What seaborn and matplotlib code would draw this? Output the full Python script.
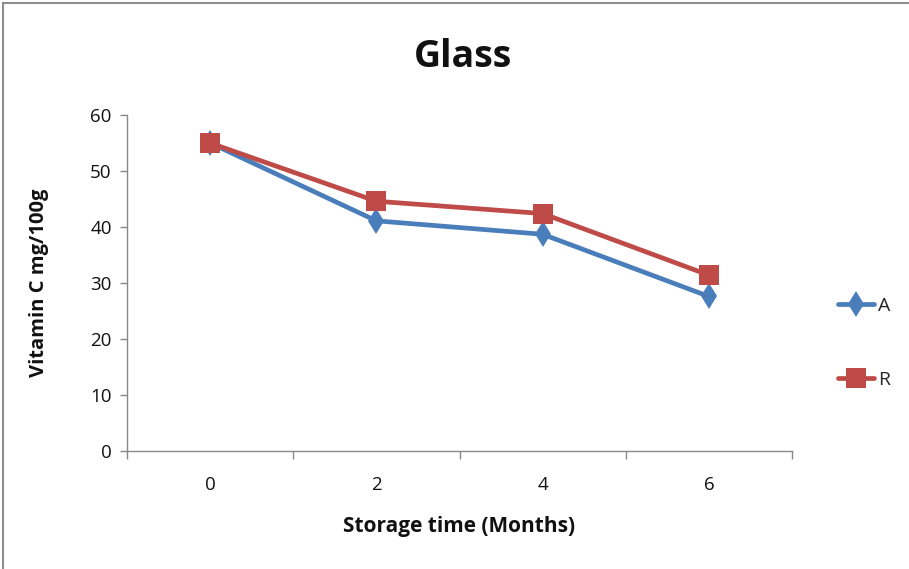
import matplotlib
matplotlib.use("Agg")
import matplotlib.pyplot as plt
from matplotlib.patches import Rectangle
from matplotlib.lines import Line2D
from matplotlib.ticker import FixedLocator, NullFormatter, FixedFormatter
import seaborn as sns
import pandas as pd

# Storage time (months) and vitamin C content (mg/100g)
months = ["0", "2", "4", "6"]
vit_a = [55.0, 41.1, 38.7, 27.6]
vit_r = [55.0, 44.6, 42.4, 31.4]
series_names = ["A", "R"]
colors = {"A": "#4A7EBB", "R": "#BE4B48"}

df = pd.DataFrame({
    "pos": list(range(len(months))) * 2,
    "value": vit_a + vit_r,
    "series": [series_names[0]] * len(months) + [series_names[1]] * len(months),
})

sns.set_theme(style="white")
plt.rcParams["font.family"] = ["Open Sans", "DejaVu Sans"]

fig = plt.figure(figsize=(9.09, 5.69), dpi=100)
ax = fig.add_axes([127 / 909, 1 - 451 / 569, (792 - 127) / 909, (451 - 115) / 569])

sns.lineplot(data=df, x="pos", y="value", hue="series", style="series",
             markers={"A": "d", "R": "s"}, dashes=False, palette=colors,
             linewidth=3.4, markeredgewidth=0, ax=ax, legend=False)
# marker sizes per series
for line, ms in zip(ax.get_lines(), [13, 14]):
    line.set_markersize(ms)

ax.set_xlim(-0.5, len(months) - 0.5)
ax.set_ylim(0, 60)
ax.set_yticks(range(0, 61, 10))

# category ticks sit between categories; labels at the centres
ax.xaxis.set_major_locator(FixedLocator([i - 0.5 for i in range(len(months) + 1)]))
ax.xaxis.set_major_formatter(NullFormatter())
ax.xaxis.set_minor_locator(FixedLocator(list(range(len(months)))))
ax.xaxis.set_minor_formatter(FixedFormatter(months))
ax.tick_params(axis="x", which="major", direction="out", length=6, width=1,
               color="#888888", bottom=True)
ax.tick_params(axis="x", which="minor", length=0, labelsize=13.5, pad=18,
               labelcolor="#111111")
ax.tick_params(axis="y", direction="out", length=5, width=1, color="#888888",
               left=True, labelsize=13.5, pad=6, labelcolor="#111111")

for side in ["top", "right"]:
    ax.spines[side].set_visible(False)
for side in ["left", "bottom"]:
    ax.spines[side].set_color("#888888")
    ax.spines[side].set_linewidth(1)

ax.set_xlabel("Storage time (Months)", fontsize=15, fontweight="bold",
              labelpad=16, color="#111111")
ax.set_ylabel("Vitamin C mg/100g", fontsize=14.5, fontweight="bold",
              labelpad=30, color="#111111")
ax.grid(False)

fig.text(463 / 909, 1 - 57 / 569, "Glass", ha="center", va="center",
         fontsize=27, fontweight="bold", color="#111111")

# legend
handles = [
    Line2D([], [], color=colors["A"], lw=3.4, marker="d", markersize=13, markeredgewidth=0),
    Line2D([], [], color=colors["R"], lw=3.4, marker="s", markersize=14, markeredgewidth=0),
]
fig.legend(handles, series_names, loc="center left",
           bbox_to_anchor=(820 / 909, 1 - 343 / 569), frameon=False,
           fontsize=14, handlelength=1.9, handletextpad=0.2, labelspacing=2.9)

# chart-area frame
fig.add_artist(Rectangle((3 / 909, -0.1), 1.2, 1 - 3 / 569 + 0.1,
                         transform=fig.transFigure, fill=False,
                         edgecolor="#8c8c8c", linewidth=1.5))

fig.savefig("out.png", dpi=100)
